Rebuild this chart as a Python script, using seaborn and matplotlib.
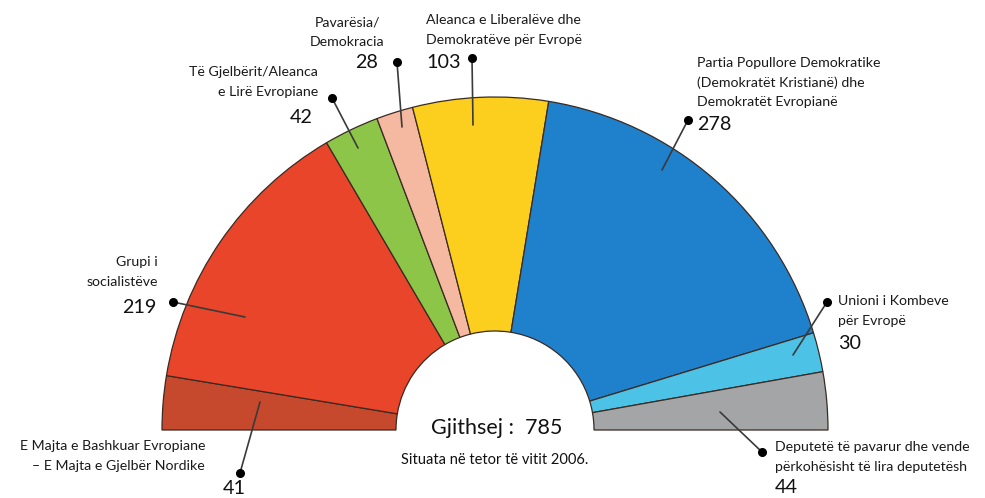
import matplotlib.pyplot as plt
import seaborn as sns

# Groups in the European Parliament, October 2006, left to right
groups = [
    "E Majta e Bashkuar Evropiane\n– E Majta e Gjelbër Nordike",
    "Grupi i\nsocialistëve",
    "Të Gjelbërit/Aleanca\ne Lirë Evropiane",
    "Pavarësia/\nDemokracia",
    "Aleanca e Liberalëve dhe\nDemokratëve për Evropë",
    "Partia Popullore Demokratike\n(Demokratët Kristianë) dhe\nDemokratët Evropianë",
    "Unioni i Kombeve\npër Evropë",
    "Deputetë të pavarur dhe vende\npërkohësisht të lira deputetësh",
]
seats = [41, 219, 42, 28, 103, 278, 30, 44]
colors = ["#c6492e", "#e8452b", "#8dc548", "#f5b8a0",
          "#fccf1e", "#1f80cc", "#4cc3e6", "#a3a5a7"]

total_label = "Gjithsej :  785"
note_label = "Situata në tetor të vitit 2006."

sns.set_theme(style="white")
plt.rcParams["font.family"] = ["Lato", "DejaVu Sans"]

W, H = 985, 498
fig = plt.figure(figsize=(W / 100, H / 100), dpi=100)
ax = fig.add_axes([0, 0, 1, 1])

# geometry in pixels (y measured from the top of the image)
cx, cy = 495, 430
r_out, r_in = 333, 99

total = sum(seats)
wedges, _ = ax.pie(
    seats + [total],
    colors=sns.color_palette(colors) + [(1, 1, 1)],
    startangle=180,
    counterclock=False,
    radius=r_out,
    center=(cx, H - cy),
    wedgeprops=dict(width=r_out - r_in, edgecolor="#3a2a22", linewidth=0.9),
)
wedges[-1].set_visible(False)

ax.set_xlim(0, W)
ax.set_ylim(0, H)
ax.set_aspect("equal")
ax.axis("off")

# label layout: (text x, text y of first line, alignment, number x, number y,
#                dot x, dot y, line end x, line end y)
layout = [
    (205, 446, "right", 234, 488, 240, 473, 260, 402),
    (158, 262, "right", 156, 307, 173, 302, 245, 317),
    (318, 72, "right", 313, 117, 332, 98, 358, 148),
    (347, 22, "center", 378, 62, 397, 62, 402, 127),
    (426, 20, "left", 426, 62, 472, 58, 473, 125),
    (697, 63, "left", 697, 124, 688, 120, 662, 170),
    (838, 301, "left", 838, 343, 827, 302, 793, 355),
    (775, 447, "left", 775, 487, 762, 452, 720, 412),
]
num_ha = ["center", "right", "right", "right", "left", "left", "left", "left"]

for name, n, lay, nha in zip(groups, seats, layout, num_ha):
    tx, ty, ha, nx, ny, dx, dy, lx, ly = lay
    for i, line in enumerate(name.split("\n")):
        ax.text(tx, H - (ty + i * 19.5), line, ha=ha, va="center",
                fontsize=10.2, color="#1a1a1a")
    ax.text(nx, H - ny, str(n), ha=nha, va="center", fontsize=14.2,
            color="#111111")
    ax.plot([dx, lx], [H - dy, H - ly], color="#3a3a3a", lw=1.2,
            solid_capstyle="round")
    ax.plot(dx, H - dy, "o", color="black", ms=5.5)

ax.text(cx + 2, H - 428, total_label, ha="center", va="center",
        fontsize=15.5, color="#111111")
ax.text(cx, H - 460, note_label, ha="center", va="center",
        fontsize=10.5, color="#111111")

fig.savefig("out.png", dpi=100, facecolor="white")
